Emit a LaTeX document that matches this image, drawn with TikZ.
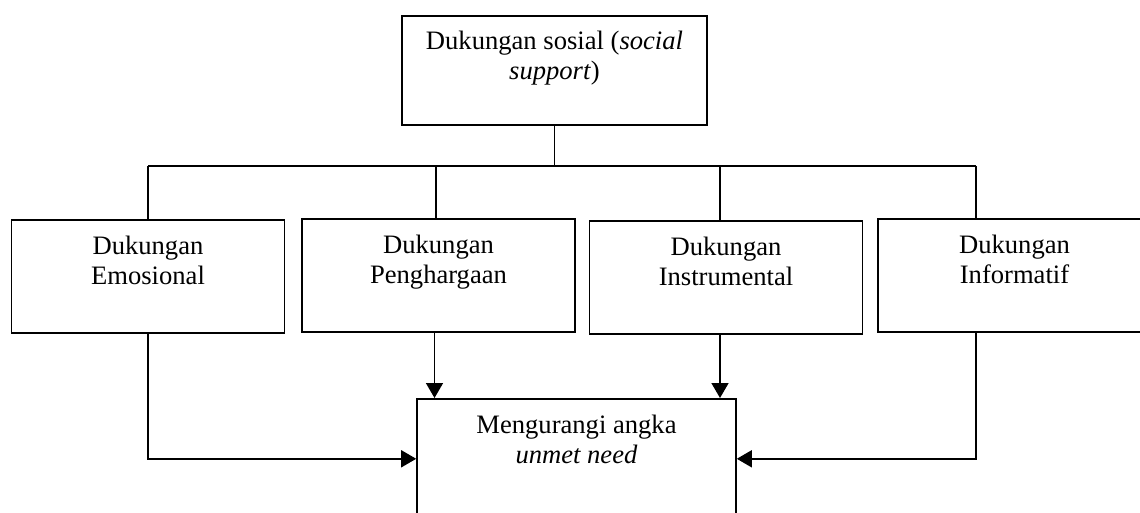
\documentclass[tikz,border=0pt]{standalone}
\usepackage{fontspec}
\setmainfont{Liberation Serif}
\usetikzlibrary{arrows.meta}

\begin{document}
\begin{tikzpicture}[x=0.5pt, y=-0.5pt, line width=0.8pt]
        \tikzstyle{box}=[draw, anchor=north, align=center, inner sep=0pt, font=\fontsize{13.3}{15}\selectfont, text height=32.5pt, text depth=24pt, minimum width=136.5pt]
        \tikzstyle{arr}=[-{Triangle[width=8.5pt, length=7.5pt]}]

        \clip (0,0) rectangle (1140,513);

        \node[box, minimum width=152.5pt, text height=32pt, text depth=22.5pt] (top) at (554.5,15) {Dukungan sosial (\textit{social}\\\textit{support})};

        \node[box] (emo) at (148,219) {Dukungan\\Emosional};
        \node[box] (peng) at (438.5,218) {Dukungan\\Penghargaan};
        \node[box] (inst) at (726,220) {Dukungan\\Instrumental};
        \node[box] (info) at (1014.5,218) {Dukungan\\Informatif};

        \node[box, minimum width=159.5pt, text height=32.5pt, text depth=27.5pt] (goal) at (576.5,398) {Mengurangi angka\\\textit{unmet need}};

        % cabang atas
        \coordinate (j1) at (148,166);
        \coordinate (j2) at (436,166);
        \coordinate (j3) at (720,166);
        \coordinate (j4) at (976,166);
        \draw (top.south) -- (top.south |- j1);
        \draw (j1) -- (j4);
        \foreach \j/\b in {j1/emo, j2/peng, j3/inst, j4/info}
            \draw (\j) -- (\j |- \b.north);

        % panah ke bawah
        \draw[arr] (emo.south) |- (goal.west);
        \draw[arr] ([xshift=-2pt]peng.south) -- ([xshift=-2pt]peng.south |- goal.north);
        \draw[arr] ([xshift=-3pt]inst.south) -- ([xshift=-3pt]inst.south |- goal.north);
        \draw[arr] ([xshift=-19.25pt]info.south) |- (goal.east);
    \end{tikzpicture}
\end{document}
